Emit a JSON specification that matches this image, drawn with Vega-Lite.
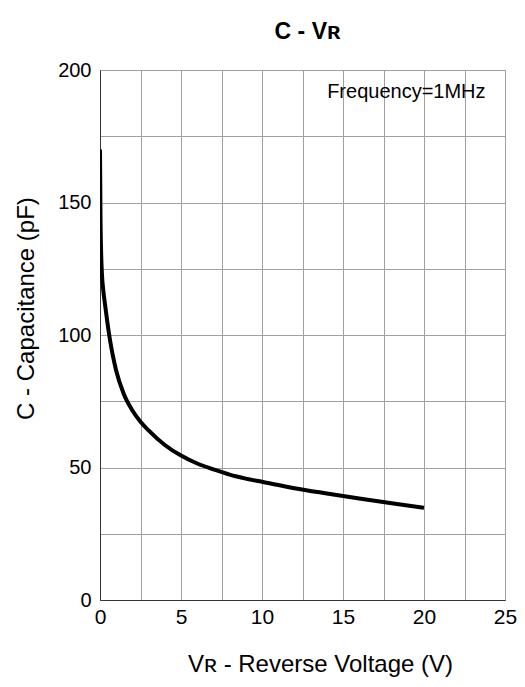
{
  "$schema": "https://vega.github.io/schema/vega-lite/v6.json",
  "width": 405,
  "height": 530,
  "autosize": "none",
  "padding": {"left": 100, "top": 70, "right": 20, "bottom": 87},
  "background": "white",
  "config": {
    "font": "Liberation Sans",
    "view": {"stroke": "#555555", "strokeWidth": 1}
  },
  "title": {
    "text": "C - Vʀ",
    "fontSize": 23,
    "fontWeight": "bold",
    "font": "Liberation Sans",
    "color": "black",
    "offset": 16,
    "dx": 5,
    "anchor": "middle"
  },
  "datasets": {
    "curve": [
      {"V": 0.0, "C": 170},
      {"V": 0.03, "C": 145},
      {"V": 0.07, "C": 131},
      {"V": 0.12, "C": 123},
      {"V": 0.2, "C": 117},
      {"V": 0.3, "C": 112},
      {"V": 0.45, "C": 105},
      {"V": 0.62, "C": 98},
      {"V": 0.8, "C": 92},
      {"V": 1.0, "C": 86.5},
      {"V": 1.45, "C": 78},
      {"V": 2.0, "C": 71.5},
      {"V": 2.5, "C": 67.3},
      {"V": 3.0, "C": 64},
      {"V": 4.0, "C": 58.5},
      {"V": 5.0, "C": 54.5},
      {"V": 6.0, "C": 51.5},
      {"V": 7.0, "C": 49.3},
      {"V": 8.0, "C": 47.3},
      {"V": 9.0, "C": 45.8},
      {"V": 10.0, "C": 44.6},
      {"V": 12.0, "C": 42.2},
      {"V": 14.0, "C": 40.2},
      {"V": 16.0, "C": 38.3},
      {"V": 18.0, "C": 36.5},
      {"V": 20.0, "C": 34.8}
    ],
    "note": [
      {"V": 23.8, "C": 191.6, "label": "Frequency=1MHz"}
    ]
  },
  "layer": [
    {
      "data": {"name": "curve"},
      "mark": {"type": "line", "color": "black", "strokeWidth": 4, "interpolate": "monotone", "clip": true},
      "encoding": {
        "x": {
          "field": "V",
          "type": "quantitative",
          "scale": {"domain": [0, 25], "nice": false, "zero": false},
          "axis": {
            "title": "Vʀ - Reverse Voltage (V)",
            "values": [0, 2.5, 5, 7.5, 10, 12.5, 15, 17.5, 20, 22.5, 25],
            "labelExpr": "datum.value % 5 === 0 ? datum.label : ''",
            "ticks": false,
            "labelPadding": 6,
            "labelFontSize": 21,
            "labelColor": "black",
            "labelFont": "Liberation Sans",
            "titleFontSize": 24,
            "titleFontWeight": "normal",
            "titleColor": "black",
            "titleFont": "Liberation Sans",
            "titlePadding": 25,
            "titleX": 220,
            "domainColor": "#333333",
            "gridColor": "#a0a0a0",
            "gridOpacity": 1,
            "labelFlush": false
          }
        },
        "y": {
          "field": "C",
          "type": "quantitative",
          "scale": {"domain": [0, 200], "nice": false, "zero": false},
          "axis": {
            "title": "C - Capacitance (pF)",
            "values": [0, 25, 50, 75, 100, 125, 150, 175, 200],
            "labelExpr": "datum.value % 50 === 0 ? datum.label : ''",
            "ticks": false,
            "labelPadding": 9,
            "labelFontSize": 20,
            "labelColor": "black",
            "labelFont": "Liberation Sans",
            "titleFontSize": 24,
            "titleFontWeight": "normal",
            "titleColor": "black",
            "titleFont": "Liberation Sans",
            "titleX": -74,
            "titleY": 238,
            "titleBaseline": "middle",
            "titleAlign": "center",
            "domainColor": "#333333",
            "gridColor": "#a0a0a0",
            "gridOpacity": 1,
            "labelFlush": false
          }
        }
      }
    },
    {
      "data": {"name": "note"},
      "mark": {"type": "text", "align": "right", "baseline": "middle", "fontSize": 20, "font": "Liberation Sans", "color": "black"},
      "encoding": {
        "x": {"field": "V", "type": "quantitative"},
        "y": {"field": "C", "type": "quantitative"},
        "text": {"field": "label"}
      }
    }
  ]
}
